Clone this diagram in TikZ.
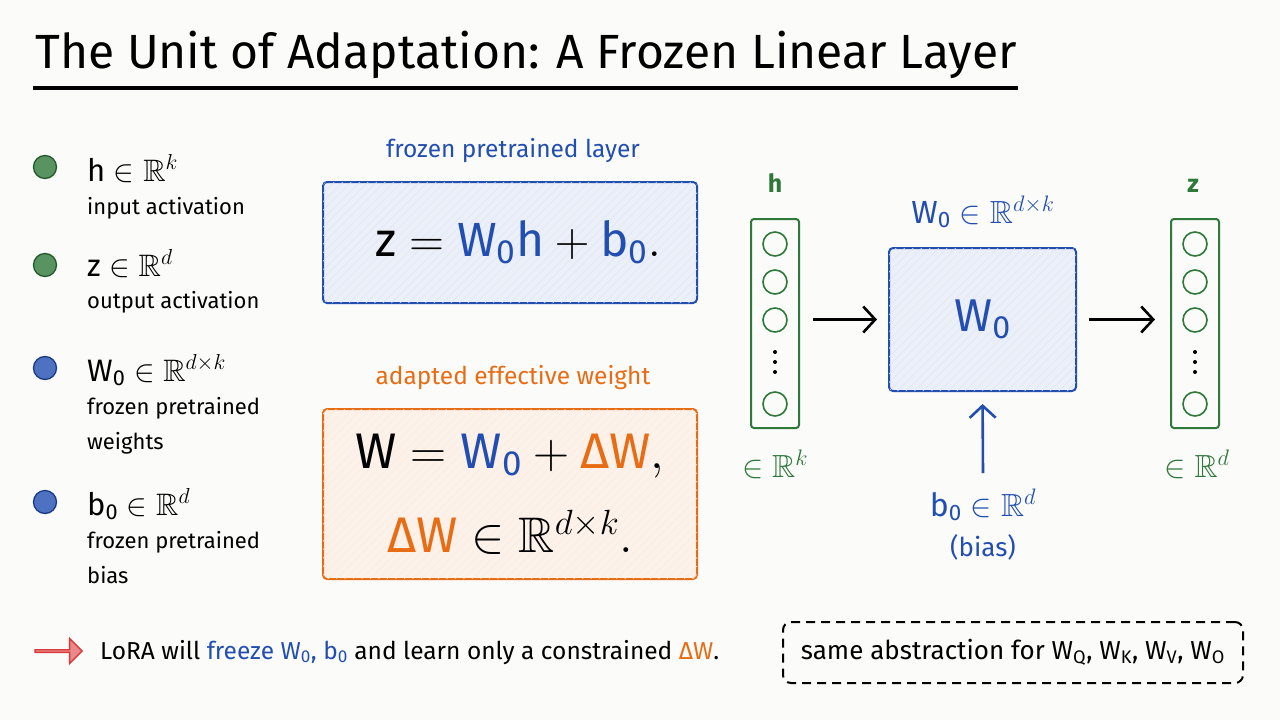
\RequirePackage{fix-cm}
\documentclass[tikz,border=0pt]{standalone}
\usepackage{amsmath,amssymb}
\usepackage{fontspec}
\setmainfont{Fira Sans}
\usetikzlibrary{arrows.meta,positioning,shapes.arrows,patterns.meta}

\definecolor{cblue}{RGB}{34,78,178}
\definecolor{cgreen}{RGB}{46,120,58}
\definecolor{corange}{RGB}{232,108,20}
\definecolor{cred}{RGB}{218,58,58}
\definecolor{bgc}{RGB}{251,251,249}

\newcommand{\Wnull}{\text{W}_{\text{0}}}
\newcommand{\bnull}{\text{b}_{\text{0}}}
\newcommand{\dW}{\text{ΔW}}

\begin{document}
\begin{tikzpicture}[x=1pt, y=-1pt,
  bullet/.style={circle, draw=#1!75!black, fill=#1!80, line width=1.3pt, minimum size=23pt, inner sep=0pt},
  sym/.style={anchor=base west, inner sep=0pt, font=\fontsize{31}{36}\selectfont},
  desc/.style={anchor=base west, inner sep=0pt, font=\fontsize{22}{26}\selectfont},
  card/.style={draw=#1, fill=#1!9, line width=2pt, rounded corners=4pt,
    postaction={pattern={Lines[angle=45,distance=6pt,line width=0.5pt]}, pattern color=#1!14}},
  hd/.style={anchor=base, inner sep=0pt, font=\fontsize{24.5}{28}\selectfont},
  col/.style={draw=cgreen, line width=2pt, rounded corners=3pt, minimum width=48pt, minimum height=209pt},
  neuron/.style={circle, draw=cgreen, line width=1.6pt, minimum size=24pt, inner sep=0pt},
  arr/.style={-{Straight Barb[length=12pt,width=26pt]}, line width=2.6pt}
]
  \fill[bgc] (0,0) rectangle (1280,720);

  % title
  \node[anchor=base west, inner sep=0pt, font=\fontsize{48}{54}\selectfont] (title) at (35,68)
    {The Unit of Adaptation: A Frozen Linear Layer};
  \draw[line width=3.5pt] (33,88) -- (1018,88);

  % legend
  \foreach \y/\c [count=\i] in {167/cgreen,265/cgreen,368/cblue,502/cblue}
    \node[bullet=\c] (b\i) at (45,\y) {};
  \node[sym] (s1) at (87,181) {$\text{h} \in \mathbb{R}^{k}$};
  \node[desc] (t1) at (87,214) {input activation};
  \node[sym] (s2) at (87,276) {$\text{z} \in \mathbb{R}^{d}$};
  \node[desc] (t2) at (87,308) {output activation};
  \node[sym] (s3) at (87,381) {$\Wnull \in \mathbb{R}^{d\times k}$};
  \node[desc] (t3) at (87,414) {frozen pretrained};
  \node[desc] (t3b) at (87,449) {weights};
  \node[sym] (s4) at (87,515) {$\bnull \in \mathbb{R}^{d}$};
  \node[desc] (t4) at (87,548) {frozen pretrained};
  \node[desc] (t4b) at (87,583) {bias};

  % the two equations
  \node[hd, text=cblue] (lay) at (513,157) {frozen pretrained layer};
  \node[card=cblue, minimum width=374pt, minimum height=121pt, font=\fontsize{48}{54}\selectfont] (eq1) at (510,242.5)
    {\hspace{16pt}$\text{z} = {\color{cblue}\Wnull\text{h}} + {\color{cblue}\bnull}.$};
  \node[hd, text=corange] (ada) at (513,384) {adapted effective weight};
  \node[card=corange, minimum width=374pt, minimum height=170pt, align=center, font=\fontsize{50}{74}\selectfont] (eq2) at (510,494)
    {$\text{W} = {\color{cblue}\Wnull} + {\color{corange}\dW},$\\[10pt]
     ${\color{corange}\dW} \in \mathbb{R}^{d\times k}.$};

  % layer sketch
  \node[col] (colh) at (775,323.5) {};
  \node[col] (colz) at (1195,323.5) {};
  \foreach \y [count=\i] in {244,282,320,404} {
    \node[neuron] (h\i) at (775,\y) {};
    \node[neuron] (z\i) at (1195,\y) {};
  }
  \foreach \y in {352,362,372} {
    \fill (775,\y) circle (2pt);
    \fill (1195,\y) circle (2pt);
  }
  \node[hd, text=cgreen, font=\fontsize{25}{30}\selectfont\bfseries] (hl) at (775,192) {h};
  \node[hd, text=cgreen, font=\fontsize{25}{30}\selectfont\bfseries] (zl) at (1193,192) {z};
  \node[hd, text=cgreen, font=\fontsize{32}{36}\selectfont] (hr) at (775,477) {$\in \mathbb{R}^{k}$};
  \node[hd, text=cgreen, font=\fontsize{32}{36}\selectfont] (zr) at (1197,477) {$\in \mathbb{R}^{d}$};

  \node[card=cblue, minimum width=187pt, minimum height=143pt, text=cblue, font=\fontsize{46}{52}\selectfont] (w0) at (982.5,319.5) {$\Wnull$};
  \node[hd, text=cblue, font=\fontsize{32}{36}\selectfont] (wl) at (983,223) {$\Wnull \in \mathbb{R}^{d\times k}$};
  \node[hd, text=cblue, font=\fontsize{32}{36}\selectfont] (bl) at (983,516) {$\bnull \in \mathbb{R}^{d}$};
  \node[hd, text=cblue, font=\fontsize{26}{30}\selectfont] (bias) at (983,556) {(bias)};
  \coordinate (bt) at (983,473);

  \draw[arr, shorten <=13pt, shorten >=11pt] (colh.east |- w0.west) -- (w0.west);
  \draw[arr, shorten <=12pt, shorten >=15pt] (w0.east) -- (colz.west |- w0.east);
  \draw[arr, cblue, shorten >=12pt] (bt) -- (w0.south);

  % footer
  \node[single arrow, draw=cred, fill=cred!60, line width=1.4pt, inner sep=0pt,
    minimum height=47pt, minimum width=25pt, single arrow head extend=6pt] (ra) at (58,651) {};
  \node[anchor=base west, inner sep=0pt, font=\fontsize{24.5}{28}\selectfont] (note) at (100,659)
    {LoRA will {\color{cblue}freeze $\Wnull$, $\bnull$} and learn only a constrained {\color{corange}$\dW$}.};
  \node[draw, dash pattern=on 9pt off 6pt, line width=2pt, rounded corners=8pt,
    minimum width=460pt, minimum height=61pt, font=\fontsize{26}{30}\selectfont] (same) at (1013,652.5)
    {same abstraction for $\text{W}_{\text{Q}}$, $\text{W}_{\text{K}}$, $\text{W}_{\text{V}}$, $\text{W}_{\text{O}}$};
\end{tikzpicture}
\end{document}
